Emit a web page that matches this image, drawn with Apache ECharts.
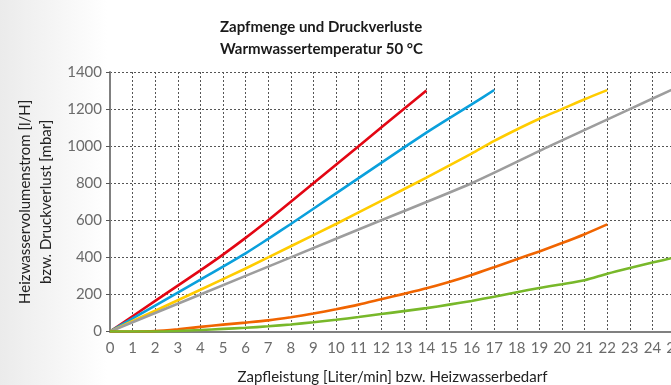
<!DOCTYPE html>
<html>
<head>
<meta charset="utf-8">
<script src="https://cdn.jsdelivr.net/npm/echarts@6/dist/echarts.min.js"></script>
<style>
  html, body { margin: 0; padding: 0; background: #fff; }
  #chart { width: 671px; height: 385px; }
</style>
</head>
<body>
<div id="chart"></div>
<script>
// Flow rate (x) and resulting volume flow / pressure loss (y) per curve
const redX = [0, 2, 4, 5, 6, 7, 9, 11, 13, 14];
const redY = [0, 165, 330, 415, 505, 600, 800, 1000, 1200, 1300];

const blueX = [0, 2, 4, 6, 7, 8, 10, 12, 14, 15, 16, 17];
const blueY = [0, 140, 280, 422, 500, 580, 745, 910, 1073, 1150, 1225, 1303];

const yellowX = [0, 2, 4, 6, 8, 10, 12, 14, 15, 16, 17, 18, 19, 20, 21, 22];
const yellowY = [0, 112, 225, 340, 460, 580, 705, 830, 895, 960, 1028, 1090, 1148, 1200, 1253, 1302];

const greyX = [0, 4, 8, 12, 16, 19.45, 23, 25];
const greyY = [0, 200, 400, 600, 800, 1000, 1200, 1312];

const orangeX = [0, 1, 2, 3, 4, 5, 6, 7, 8, 9, 10, 11, 12, 13, 14, 15, 16, 17, 18, 19, 20, 21, 22];
const orangeY = [0, 0, 2, 12, 25, 37, 48, 60, 77, 97, 120, 145, 174, 203, 233, 267, 305, 347, 390, 432, 477, 525, 578];

const greenX = [0, 1, 2, 3, 4, 5, 6, 7, 8, 9, 10, 11, 12, 13, 14, 15, 16, 17, 18, 19, 20, 21, 22, 23, 24, 25];
const greenY = [0, 0, 0, 3, 8, 14, 20, 28, 38, 50, 63, 78, 94, 110, 126, 145, 165, 188, 212, 235, 255, 277, 312, 343, 372, 400];

const xTicks = { min: 0, max: 25, interval: 1 };
const yTicks = { min: 0, max: 1400, interval: 200 };

const pairs = (xs, ys) => xs.map((x, i) => [x, ys[i]]);

const curves = [
  { name: 'rot',    color: '#e30613', data: pairs(redX, redY) },
  { name: 'blau',   color: '#0aa0dc', data: pairs(blueX, blueY) },
  { name: 'gelb',   color: '#ffcc00', data: pairs(yellowX, yellowY) },
  { name: 'grau',   color: '#9d9d9d', data: pairs(greyX, greyY) },
  { name: 'orange', color: '#f06400', data: pairs(orangeX, orangeY) },
  { name: 'grün',   color: '#78b82a', data: pairs(greenX, greenY) }
];

const FONT = 'Lato, "Noto Sans", sans-serif';
const gridDots = { type: [2, 2], color: '#555', width: 1 };

const chart = echarts.init(document.getElementById('chart'), null, { renderer: 'canvas' });

chart.setOption({
  animation: false,
  backgroundColor: {
    type: 'linear', x: 0, y: 0, x2: 1, y2: 0,
    colorStops: [
      { offset: 0, color: '#ebebeb' },
      { offset: 0.16, color: '#ffffff' },
      { offset: 1, color: '#ffffff' }
    ]
  },
  title: {
    text: 'Zapfmenge und Druckverluste\nWarmwassertemperatur 50 °C',
    left: 215,
    top: 11,
    textStyle: {
      fontFamily: FONT,
      fontSize: 15,
      fontWeight: 'bold',
      color: '#1a1a1a',
      lineHeight: 22,
      align: 'center'
    }
  },
  grid: {
    left: 110, right: -4, top: 72, bottom: 53.5,
    containLabel: false,
    outerBoundsMode: 'none'
  },
  xAxis: {
    type: 'value',
    min: xTicks.min,
    max: xTicks.max,
    interval: xTicks.interval,
    name: 'Zapfleistung [Liter/min] bzw. Heizwasserbedarf',
    nameLocation: 'middle',
    nameGap: 38,
    nameTextStyle: { fontFamily: FONT, fontSize: 15, color: '#222' },
    axisLine: { show: true, lineStyle: { color: '#808080', width: 2 } },
    axisTick: { show: false },
    axisLabel: { fontFamily: FONT, fontSize: 15, color: '#6b6b6b', margin: 9 },
    splitLine: { show: true, lineStyle: gridDots }
  },
  yAxis: {
    type: 'value',
    min: yTicks.min,
    max: yTicks.max,
    interval: yTicks.interval,
    name: 'Heizwasservolumenstrom [l/H]\nbzw. Druckverlust [mbar]',
    nameLocation: 'middle',
    nameGap: 46,
    nameRotate: 90,
    nameTextStyle: { fontFamily: FONT, fontSize: 15, color: '#222', lineHeight: 21, align: 'center' },
    axisLine: { show: true, lineStyle: { color: '#808080', width: 2 } },
    axisTick: { show: true, length: 4, lineStyle: { color: '#555' } },
    axisLabel: {
      fontFamily: FONT, fontSize: 15, color: '#6b6b6b', margin: 8,
      formatter: v => String(v)
    },
    splitLine: { show: true, lineStyle: gridDots }
  },
  series: curves.map(c => ({
    name: c.name,
    type: 'line',
    data: c.data,
    smooth: 0.25,
    showSymbol: false,
    clip: true,
    lineStyle: { color: c.color, width: 2.6 },
    itemStyle: { color: c.color }
  }))
});
</script>
</body>
</html>
